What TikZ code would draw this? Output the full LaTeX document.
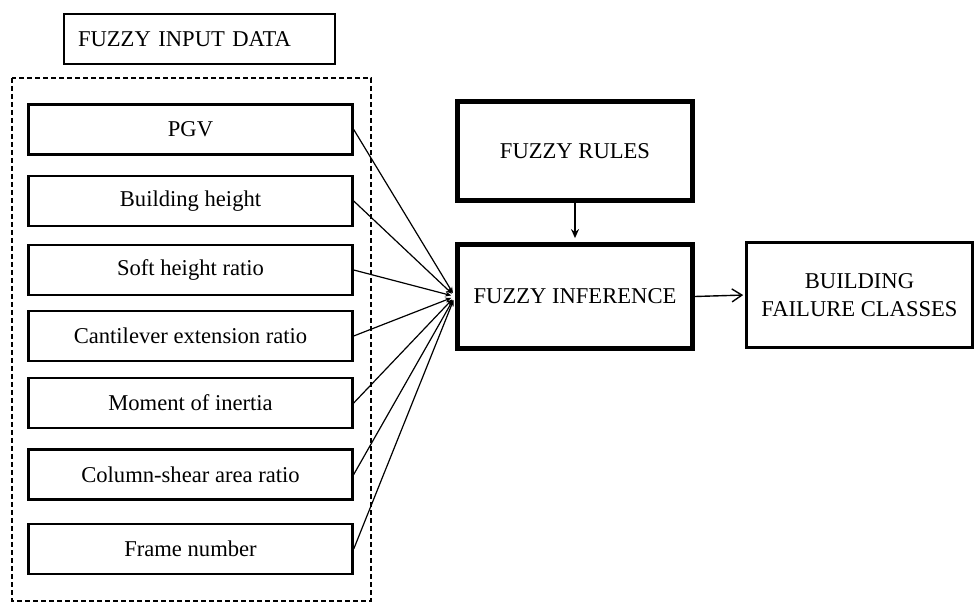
\documentclass[tikz,border=0pt]{standalone}
\usepackage{fontspec}
\setmainfont{Liberation Serif}
\usetikzlibrary{arrows.meta}

\begin{document}
\begin{tikzpicture}[
    x=0.5pt, y=-0.5pt,
    font=\fontsize{11.3}{14}\selectfont,
    inbox/.style={
        draw, line width=1.2pt,
        minimum width=162pt, minimum height=25pt, inner sep=0pt
    },
    mainbox/.style={
        draw, line width=2.4pt,
        minimum width=117.6pt, align=center
    },
    inarrow/.style={-{Stealth[length=3pt,width=2.6pt]}, line width=0.6pt, shorten >=2pt}
]

\useasboundingbox (0,0) rectangle (974,603);

\node[draw, line width=1pt, minimum width=135.5pt, minimum height=25pt,
      inner xsep=7pt, text width=121.5pt, align=left] (title) at (199.5, 39) {FUZZY INPUT DATA};

\draw[line width=0.8pt, dash pattern=on 2.5pt off 1.5pt] (12,78) rectangle (371,601);

\node[inbox] (pgv)      at (190.5, 129.5) {PGV};
\node[inbox] (bheight)  at (190.5, 201)   {Building height};
\node[inbox] (softh)    at (190.5, 270)   {Soft height ratio};
\node[inbox] (cantil)   at (190.5, 336)   {Cantilever extension ratio};
\node[inbox] (moment)   at (190.5, 403)   {Moment of inertia};
\node[inbox] (colshear) at (190.5, 474.5) {Column-shear area ratio};
\node[inbox] (frame)    at (190.5, 549)   {Frame number};

\node[mainbox, minimum height=49.6pt] (rules) at (575, 151)   {FUZZY RULES};
\node[mainbox, minimum height=52pt]   (inf)   at (575, 296.5) {FUZZY INFERENCE};
\node[draw, line width=1.3pt, minimum width=113pt, minimum height=52.7pt, align=center]
    (classes) at (859.5, 295) {BUILDING\\FAILURE CLASSES};

\draw[inarrow] (pgv.east)      -- (inf.west);
\draw[inarrow] (bheight.east)  -- (inf.west);
\draw[inarrow] (softh.east)    -- (inf.west);
\draw[inarrow] (cantil.east)   -- (inf.west);
\draw[inarrow] (moment.east)   -- (inf.west);
\draw[inarrow] (colshear.east) -- (inf.west);
\draw[inarrow] (frame.east)    -- (inf.west);

\draw[-{Stealth[length=4.5pt,width=4pt]}, line width=0.7pt, shorten >=2pt] (rules.south) -- (inf.north);
\draw[-{Straight Barb[length=5pt,width=6.5pt]}, line width=0.7pt, shorten >=1pt] (inf.east) -- (classes.west);

\end{tikzpicture}
\end{document}
